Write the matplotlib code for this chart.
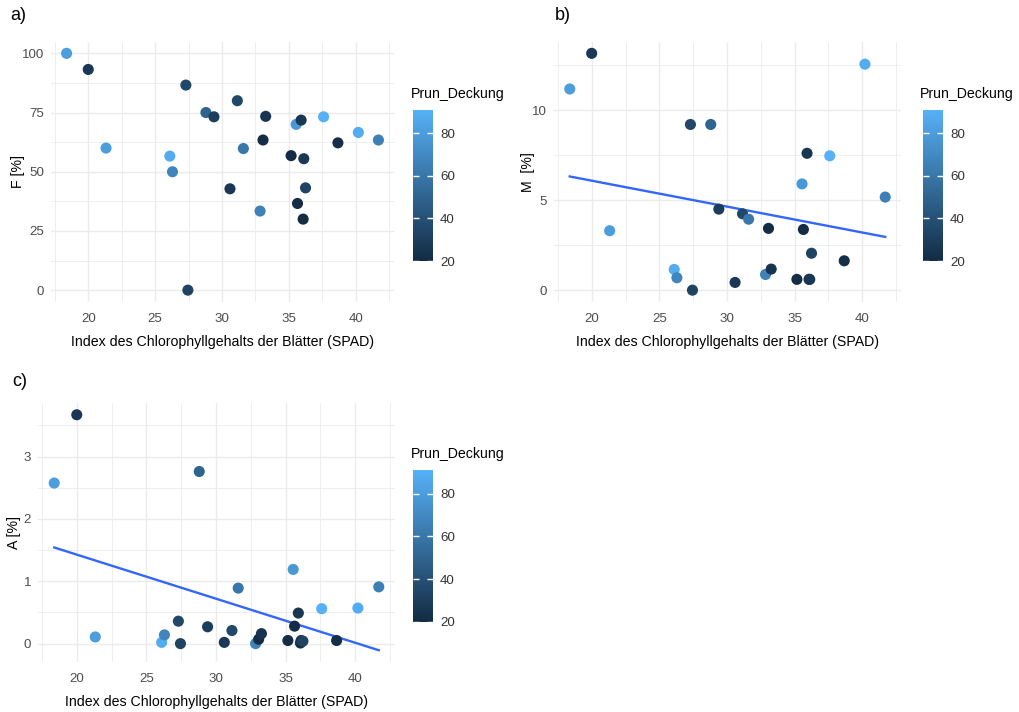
import numpy as np
import matplotlib
matplotlib.use('Agg')
import matplotlib.pyplot as plt
from matplotlib.colors import LinearSegmentedColormap, Normalize
from matplotlib.ticker import MultipleLocator

plt.rcParams['font.family'] = ['Liberation Sans', 'DejaVu Sans']

################################################################################
# Data: one row per plot, same SPAD values and Prunus cover in every panel.    #
################################################################################

spad = [18.38, 20.0, 21.33, 26.1, 26.3, 27.3, 27.45, 28.8, 29.4, 30.6, 31.15, 31.6, 32.85,
        33.07, 33.27, 35.17, 35.55, 35.65, 35.92, 36.07, 36.12, 36.25, 37.6, 38.67, 40.2, 41.7]
prun_deckung = [80, 27, 80, 88, 68, 35, 33, 50, 30, 27, 35, 60, 66,
                21, 25, 21, 78, 21, 26, 20, 27, 33, 91, 22, 88, 65]
F = [100, 93.2, 60, 56.6, 50, 86.6, 0, 75, 73.2, 42.8, 80, 59.8, 33.4,
     63.4, 73.4, 56.8, 70, 36.6, 71.8, 30, 55.5, 43.2, 73.2, 62.2, 66.6, 63.4]
M = [11.17, 13.15, 3.3, 1.15, 0.69, 9.2, 0.0, 9.2, 4.5, 0.43, 4.24, 3.94, 0.87,
     3.43, 1.17, 0.6, 5.9, 3.37, 7.6, 0.6, 0.6, 2.05, 7.46, 1.63, 12.55, 5.17]
A = [2.575, 3.67, 0.107, 0.02, 0.14, 0.36, 0.0, 2.76, 0.27, 0.02, 0.21, 0.89, 0.0,
     0.07, 0.16, 0.05, 1.19, 0.28, 0.49, 0.01, 0.05, 0.04, 0.56, 0.05, 0.57, 0.91]

x = np.array(spad)
cover = np.array(prun_deckung)

################################################################################
# Plot.                                                                        #
################################################################################

W, H = 1020, 712
fig = plt.figure(figsize=(W / 100, H / 100), dpi=100)

cmap = LinearSegmentedColormap.from_list('gg_blues', ['#132B43', '#56B1F7'])
norm = Normalize(vmin=cover.min(), vmax=cover.max())
grid_c = '#EBEBEB'
xlab = 'Index des Chlorophyllgehalts der Blätter (SPAD)'
fs_title, fs_tick = 10.2, 9.6


def px_box(left, top, right, bottom):
    return [left / W, 1 - bottom / H, (right - left) / W, (bottom - top) / H]


def panel(box, y, ylabel, ymajor, ypad, tag, tag_xy, fit, legend_box, title_xy):
    ax = fig.add_axes(px_box(*box))
    y = np.array(y)
    sc = ax.scatter(x, y, c=cover, cmap=cmap, norm=norm, s=64, linewidths=0, zorder=3)
    if fit:
        k, d = np.polyfit(x, y, 1)
        xf = np.array([x.min(), x.max()])
        ax.plot(xf, k * xf + d, '-', c='#3366FF', lw=1.7, zorder=2)
    ax.margins(0.05)
    ax.xaxis.set_major_locator(MultipleLocator(5))
    ax.xaxis.set_minor_locator(MultipleLocator(2.5))
    ax.yaxis.set_major_locator(MultipleLocator(ymajor))
    ax.yaxis.set_minor_locator(MultipleLocator(ymajor / 2))
    ax.grid(which='major', color=grid_c, lw=1.0, zorder=0)
    ax.grid(which='minor', color=grid_c, lw=0.6, zorder=0)
    ax.set_axisbelow(True)
    for s in ax.spines.values():
        s.set_visible(False)
    ax.tick_params(which='both', length=0, labelsize=fs_tick, labelcolor='#4D4D4D')
    ax.tick_params(axis='x', pad=8)
    ax.tick_params(axis='y', pad=5)
    ax.set_xlabel(xlab, fontsize=fs_title, labelpad=7)
    ax.set_ylabel(ylabel, fontsize=fs_title, labelpad=ypad)
    fig.text(tag_xy[0] / W, 1 - tag_xy[1] / H, tag, fontsize=13, ha='left', va='center')

    # Colour legend.
    cax = fig.add_axes(px_box(*legend_box))
    cb = fig.colorbar(sc, cax=cax, ticks=[20, 40, 60, 80])
    cb.outline.set_visible(False)
    cax.tick_params(left=True, right=True, labelleft=False, labelright=True,
                    direction='in', length=4, width=1, color='white',
                    labelsize=fs_tick, labelcolor='#333333', pad=5)
    fig.text(title_xy[0] / W, 1 - title_xy[1] / H, 'Prun_Deckung', fontsize=fs_title,
             ha='left', va='center')
    return ax


panel((51, 41.5, 394, 302), F, 'F [%]', 25, -2, 'a)', (10, 16), False,
      (413, 110, 433, 261), (411, 94))
panel((554, 41.5, 901, 302), M, 'M  [%]', 5, -2, 'b)', (555, 16), True,
      (923, 110, 943, 261), (920, 94))
panel((38, 403, 395, 662), A, 'A [%]', 1, 2, 'c)', (12, 382), True,
      (413, 470, 433, 622), (411, 454))

fig.savefig('out.png', dpi=100, facecolor='white')
plt.close()
